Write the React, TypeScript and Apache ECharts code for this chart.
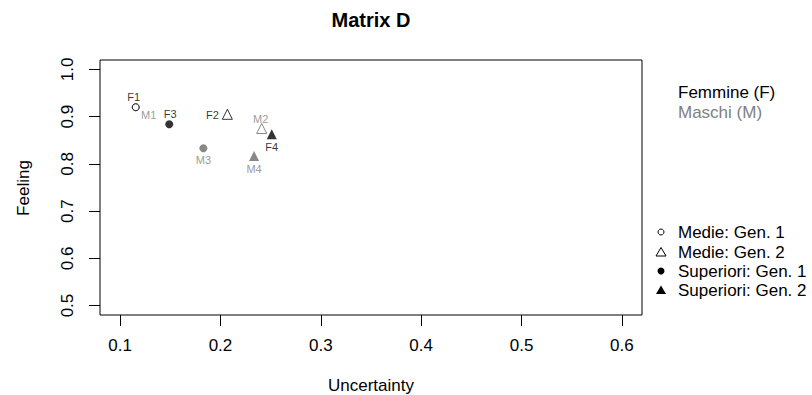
import React, { useEffect, useRef } from "react";
import * as echarts from "echarts";

// ---- data ----
const pointLabels = ["M1", "F1", "M2", "F2", "F3", "M3", "F4", "M4"];
const uncertainty = [0.1156, 0.1156, 0.2411, 0.2069, 0.149, 0.183, 0.2511, 0.2335];
const feeling = [0.92, 0.92, 0.875, 0.905, 0.884, 0.833, 0.863, 0.8165];
// index into typeNames for every point
const pointType = [0, 0, 1, 1, 2, 2, 3, 3];
const typeNames = ["Medie: Gen. 1", "Medie: Gen. 2", "Superiori: Gen. 1", "Superiori: Gen. 2"];
const groupNames = ["Femmine (F)", "Maschi (M)"];
const xTicks = [0.1, 0.2, 0.3, 0.4, 0.5, 0.6];
const yTicks = [0.5, 0.6, 0.7, 0.8, 0.9, 1.0];

// ---- styles ----
const BLACK = "#000000";
const GRAY = "#808080";
const GRAY_MARK = "#6a6a6a";
const FONT = "Liberation Sans, Arial, sans-serif";
const typeSymbol = ["circle", "triangle", "circle", "triangle"];
const typeFilled = [false, false, true, true];
const typeSize = [7, 10, 8, 10];
// label offsets relative to point centre [dx, dy]
const labelOffset: Record<string, [number, number]> = {
  F1: [-2, -10],
  M1: [13, 7.5],
  F2: [-15, 1],
  M2: [-1, -9],
  F3: [1, -10],
  M3: [0, 12],
  F4: [0, 13],
  M4: [0, 13],
};

export default function App() {
  const ref = useRef<HTMLDivElement>(null);
  useEffect(() => {
    document.body.style.margin = "0";
    if (!ref.current) return;
    const chart = echarts.init(ref.current, undefined, { renderer: "svg" });

    const series = typeNames.map((tn, t) => ({
      type: "scatter",
      name: tn,
      symbol: typeSymbol[t],
      symbolSize: typeSize[t],
      data: pointLabels
        .map((lab, i) => ({ lab, i }))
        .filter(({ i }) => pointType[i] === t)
        .map(({ lab, i }) => {
          const isF = lab.startsWith("F");
          const col = isF ? BLACK : GRAY;
          const mark = isF ? BLACK : GRAY_MARK;
          return {
            name: lab,
            value: [uncertainty[i], feeling[i]],
            itemStyle: typeFilled[t]
              ? { color: mark, borderWidth: 0 }
              : { color: "rgba(255,255,255,0)", borderColor: mark, borderWidth: 1 },
            label: {
              show: true,
              formatter: lab,
              position: "inside",
              offset: labelOffset[lab],
              color: col,
              textBorderWidth: 0,
              textBorderColor: "transparent",
              fontSize: 11,
              fontFamily: FONT,
            },
          };
        }),
    }));

    const legendY = [232, 252, 271, 290];
    const graphic: any[] = [
      {
        type: "text",
        style: {
          text: "Matrix D",
          x: 371,
          y: 20,
          align: "center",
          verticalAlign: "middle",
          font: `bold 20px ${FONT}`,
          fill: BLACK,
        },
      },
      {
        type: "text",
        style: {
          text: "Uncertainty",
          x: 371,
          y: 385,
          align: "center",
          verticalAlign: "middle",
          font: `17px ${FONT}`,
          fill: BLACK,
        },
      },
      {
        type: "text",
        x: 23,
        y: 188,
        rotation: Math.PI / 2,
        style: {
          text: "Feeling",
          x: 0,
          y: 0,
          align: "center",
          verticalAlign: "middle",
          font: `17px ${FONT}`,
          fill: BLACK,
        },
      },
    ];
    groupNames.forEach((g, k) => {
      graphic.push({
        type: "text",
        style: {
          text: g,
          x: 678,
          y: 92 + k * 20,
          align: "left",
          verticalAlign: "middle",
          font: `17px ${FONT}`,
          fill: k === 0 ? BLACK : GRAY,
        },
      });
    });
    typeNames.forEach((tn, t) => {
      const cy = legendY[t];
      const sx = 661;
      if (typeSymbol[t] === "circle") {
        graphic.push({
          type: "circle",
          shape: { cx: sx, cy, r: typeFilled[t] ? 3.5 : 3 },
          style: typeFilled[t]
            ? { fill: BLACK }
            : { fill: "none", stroke: BLACK, lineWidth: 1 },
        });
      } else {
        graphic.push({
          type: "polygon",
          shape: {
            points: [
              [sx, cy - 4.5],
              [sx + 5, cy + 4],
              [sx - 5, cy + 4],
            ],
          },
          style: typeFilled[t]
            ? { fill: BLACK }
            : { fill: "none", stroke: BLACK, lineWidth: 1 },
        });
      }
      graphic.push({
        type: "text",
        style: {
          text: tn,
          x: 678,
          y: cy,
          align: "left",
          verticalAlign: "middle",
          font: `17px ${FONT}`,
          fill: BLACK,
        },
      });
    });

    chart.setOption({
      animation: false,
      grid: {
        left: 100,
        right: 170,
        top: 60,
        bottom: 80,
        show: true,
        borderColor: BLACK,
        borderWidth: 1,
        backgroundColor: "transparent",
      },
      xAxis: {
        type: "value",
        min: 0.08,
        max: 0.62,
        axisLine: { show: false },
        splitLine: { show: false },
        axisTick: {
          show: true,
          inside: false,
          length: 11,
          lineStyle: { color: BLACK },
          customValues: xTicks,
        },
        axisLabel: {
          customValues: xTicks,
          formatter: (v: number) => v.toFixed(1),
          color: BLACK,
          fontSize: 17,
          fontFamily: FONT,
          margin: 22,
        },
      },
      yAxis: {
        type: "value",
        min: 0.48,
        max: 1.02,
        axisLine: { show: false },
        splitLine: { show: false },
        axisTick: {
          show: true,
          inside: false,
          length: 11,
          lineStyle: { color: BLACK },
          customValues: yTicks,
        },
        axisLabel: {
          customValues: yTicks,
          formatter: (v: number) => v.toFixed(1),
          rotate: 90,
          color: BLACK,
          fontSize: 17,
          fontFamily: FONT,
          margin: 24,
        },
      },
      series,
      graphic,
    });
    return () => chart.dispose();
  }, []);
  return (
    <div
      ref={ref}
      style={{ width: 812, height: 395, position: "absolute", left: 0, top: 0 }}
    />
  );
}
